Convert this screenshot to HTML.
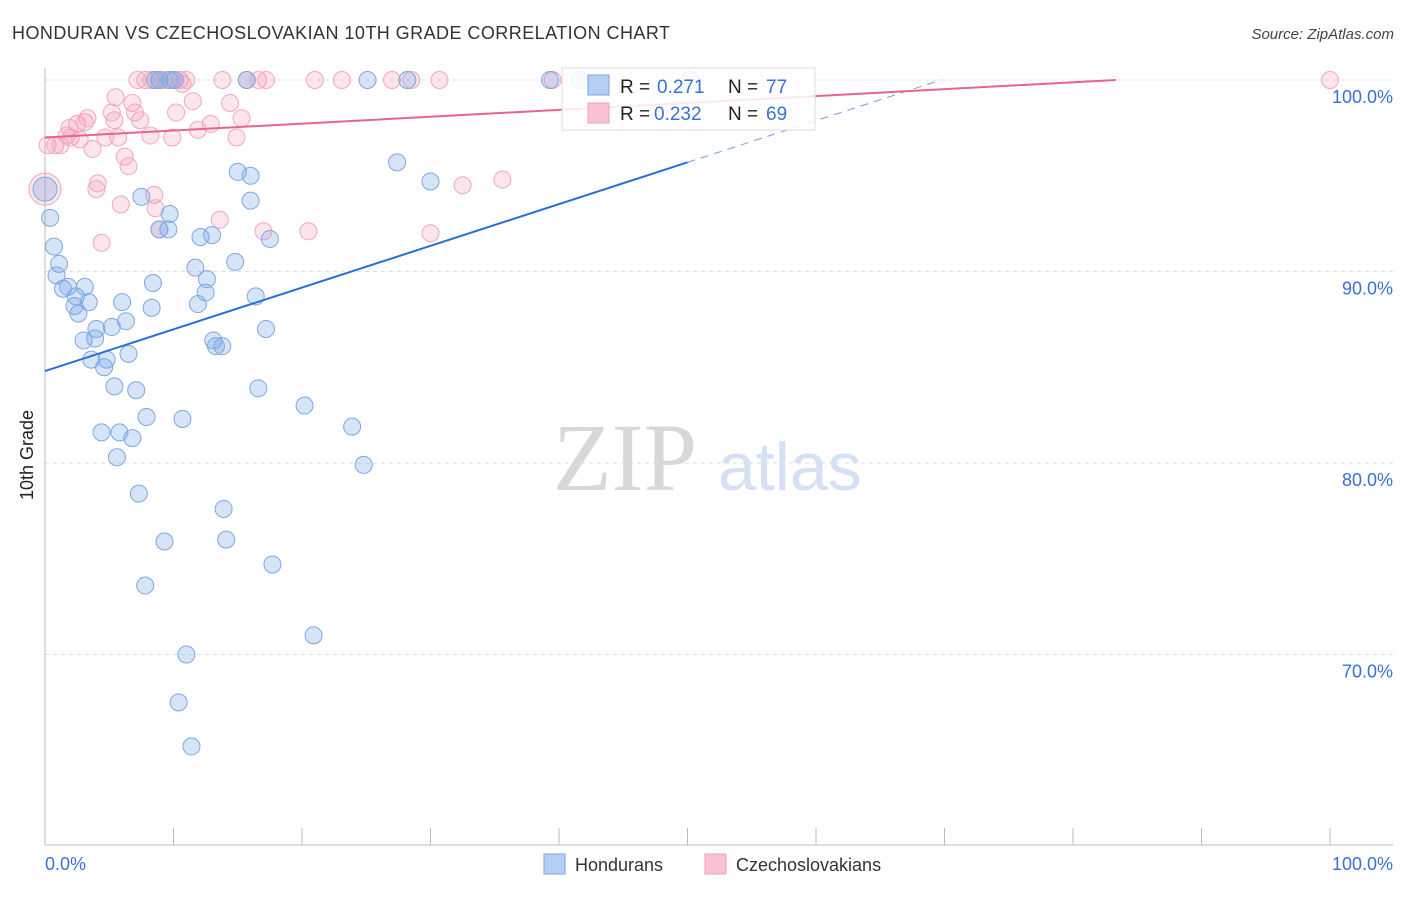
<!DOCTYPE html>
<html><head><meta charset="utf-8"><style>
body{margin:0;background:#fff;font-family:"Liberation Sans",sans-serif;}
</style></head><body>
<svg id="chart" width="1406" height="892" xmlns="http://www.w3.org/2000/svg" font-family="Liberation Sans, sans-serif">
<text x="12" y="39" font-size="18" fill="#333" textLength="658">HONDURAN VS CZECHOSLOVAKIAN 10TH GRADE CORRELATION CHART</text>
<text x="1394" y="39" font-size="15" fill="#444" text-anchor="end" font-style="italic">Source: ZipAtlas.com</text>
<text transform="translate(33,455) rotate(-90)" font-size="18" fill="#222" text-anchor="middle">10th Grade</text>
<g id="grid"></g>
<g><text x="553" y="490" font-size="96" fill="#d8d8d8" style="font-family:'Liberation Serif',serif">ZIP</text><text x="718" y="490" font-size="68" fill="#d4e1f4">atlas</text></g>
<g id="pts"></g>
<g id="lines"></g>
<g>
<rect x="562" y="68" width="253" height="62" fill="rgba(255,255,255,0.85)" stroke="#ddd"/>
<rect x="588" y="75" width="21" height="20" fill="#b5cef2" stroke="#7aa4e0"/>
<rect x="588" y="103" width="21" height="20" fill="#f8c2d2" stroke="#ef9fba"/>
<text x="620" y="93" font-size="19" fill="#222">R =</text>
<text x="657" y="93" font-size="19" fill="#3a70d4">0.271</text>
<text x="728" y="93" font-size="19" fill="#222">N =</text>
<text x="766" y="93" font-size="19" fill="#3a70d4">77</text>
<text x="620" y="120" font-size="19" fill="#222">R =</text>
<text x="654" y="120" font-size="19" fill="#3a70d4">0.232</text>
<text x="728" y="120" font-size="19" fill="#222">N =</text>
<text x="766" y="120" font-size="19" fill="#3a70d4">69</text>
</g>
<g>
<rect x="544" y="854" width="21" height="20" fill="#b5cef2" stroke="#7aa4e0"/>
<text x="575" y="871" font-size="18" fill="#333">Hondurans</text>
<rect x="705" y="854" width="21" height="20" fill="#f8c2d2" stroke="#ef9fba"/>
<text x="736" y="871" font-size="18" fill="#333">Czechoslovakians</text>
</g>
</svg>
<script>
const xTickLabels=["0.0%","100.0%"];
const yTicks=[100,90,80,70];
const yTickLabels=["100.0%","90.0%","80.0%","70.0%"];
const blueX=[0,0.4,0.7,1.1,0.9,1.4,1.8,2.3,2.4,2.6,3.1,3.4,3.0,3.9,4.0,3.6,4.8,4.6,5.2,6.3,6.5,6.0,5.4,7.1,8.4,8.3,7.5,9.7,8.9,9.6,11.7,12.1,13.0,12.6,12.5,11.9,14.8,15.0,16.0,16.0,17.5,16.4,17.2,13.1,13.3,13.8,16.6,20.2,23.9,24.8,10.7,7.9,4.4,5.8,6.8,5.6,7.3,13.9,14.1,9.3,17.7,7.8,20.9,11.0,10.4,11.4,27.4,30.0,15.7,25.1,28.2,39.3,41.6,9.7,8.6,8.9,10.1,50.2];
const blueY=[94.3,92.8,91.3,90.4,89.8,89.1,89.2,88.2,88.7,87.8,89.2,88.4,86.4,86.5,87.0,85.4,85.4,85.0,87.1,87.4,85.7,88.4,84.0,83.8,89.4,88.1,93.9,93.0,92.2,92.2,90.2,91.8,91.9,89.6,88.9,88.3,90.5,95.2,95.0,93.7,91.7,88.7,87.0,86.4,86.1,86.1,83.9,83.0,81.9,79.9,82.3,82.4,81.6,81.6,81.3,80.3,78.4,77.6,76.0,75.9,74.7,73.6,71.0,70.0,67.5,65.2,95.7,94.7,100,100,100,100,100,100,100,100,100,100];
const pinkX=[0,0.2,0.8,1.2,1.7,2.0,1.9,2.5,2.7,3.1,3.3,3.7,4.1,4.0,4.4,4.7,5.2,5.5,5.4,5.7,5.9,6.2,6.5,6.8,7.0,7.4,8.2,8.5,8.6,8.9,9.9,10.2,11.5,11.9,12.9,13.6,14.4,15.3,14.9,17.0,20.5,32.5,35.6,30.0,7.2,7.8,8.3,8.9,9.3,9.9,10.5,11.0,13.8,15.7,16.6,17.2,21.0,23.1,27.0,28.5,30.7,39.5,100,10.7];
const pinkY=[94.3,96.6,96.6,96.6,97.1,97.0,97.5,97.7,96.9,97.8,98.0,96.4,94.6,94.3,91.5,97.0,98.3,99.1,97.9,97.0,93.5,96.0,95.5,98.8,98.3,97.9,97.1,94.0,93.3,92.2,97.0,98.3,98.9,97.4,97.7,92.7,98.8,98.0,97.0,92.1,92.1,94.5,94.8,92.0,100,100,100,100,100,100,100,100,100,100,100,100,100,100,100,100,100,100,100,99.8];
const blueTrend=[84.8,0.218];
const pinkTrend=[97.0,0.036];
const X=v=>45+v*12.85, Y=v=>80+(100-v)*19.15;
const NS="http://www.w3.org/2000/svg";
function mk(t,a,p){const e=document.createElementNS(NS,t);for(const k in a)e.setAttribute(k,a[k]);p.appendChild(e);return e;}
const g=document.getElementById('grid');
yTicks.forEach((t,i)=>{
 const l=mk('line',{x1:45,x2:1393,y1:Y(t),y2:Y(t),stroke:'#ddd','stroke-dasharray':'4,4'},g);
 
 
 const tx=mk('text',{x:1393,y:Y(t)+23,'font-size':18,fill:'#3a70d4','text-anchor':'end'},g);
 tx.textContent=yTickLabels[i];
 
 
});
const ax=mk('line',{x1:45,x2:1393,y1:845,y2:845,stroke:'#bbb'},g);


const ay=mk('line',{x1:45,x2:45,y1:68,y2:845,stroke:'#bbb'},g);


for(let i=0;i<=10;i++){
 const t=mk('line',{x1:X(i*10),x2:X(i*10),y1:828,y2:845,stroke:'#bbb'},g);
 
 
}
[[0,"start",45],[1,"end",1393]].forEach(([i,a,x])=>{
 const t=mk('text',{x:x,y:870,'font-size':18,fill:'#3a70d4','text-anchor':a},g);
 t.textContent=xTickLabels[i];
 
 
});
const p=document.getElementById('pts');
pinkX.forEach((v,i)=>{
 const c=mk('circle',{cx:X(v),cy:Y(pinkY[i]),r:i==0?16:8.5,fill:'rgba(244,150,180,0.25)',stroke:'#f0a8c0','stroke-width':1},p);
 
 
});
blueX.forEach((v,i)=>{
 const c=mk('circle',{cx:X(v),cy:Y(blueY[i]),r:i==0?12:8.5,fill:'rgba(120,165,230,0.3)',stroke:'#7ea7e2','stroke-width':1},p);
 
 
});
const L=document.getElementById('lines');
const bEnd=50, bDash=(100-blueTrend[0])/blueTrend[1];
let l1=mk('line',{x1:X(0),y1:Y(blueTrend[0]),x2:X(bEnd),y2:Y(blueTrend[0]+blueTrend[1]*bEnd),stroke:'#2a6fd6','stroke-width':2},L);


let l2=mk('line',{x1:X(bEnd),y1:Y(blueTrend[0]+blueTrend[1]*bEnd),x2:X(bDash),y2:Y(100),stroke:'#6e9de0','stroke-width':1,'stroke-dasharray':'8,6'},L);


const pEnd=Math.min(100,(100-pinkTrend[0])/pinkTrend[1]);
let l3=mk('line',{x1:X(0),y1:Y(pinkTrend[0]),x2:X(pEnd),y2:Y(pinkTrend[0]+pinkTrend[1]*pEnd),stroke:'#e8648f','stroke-width':2},L);


</script>
</body></html>
